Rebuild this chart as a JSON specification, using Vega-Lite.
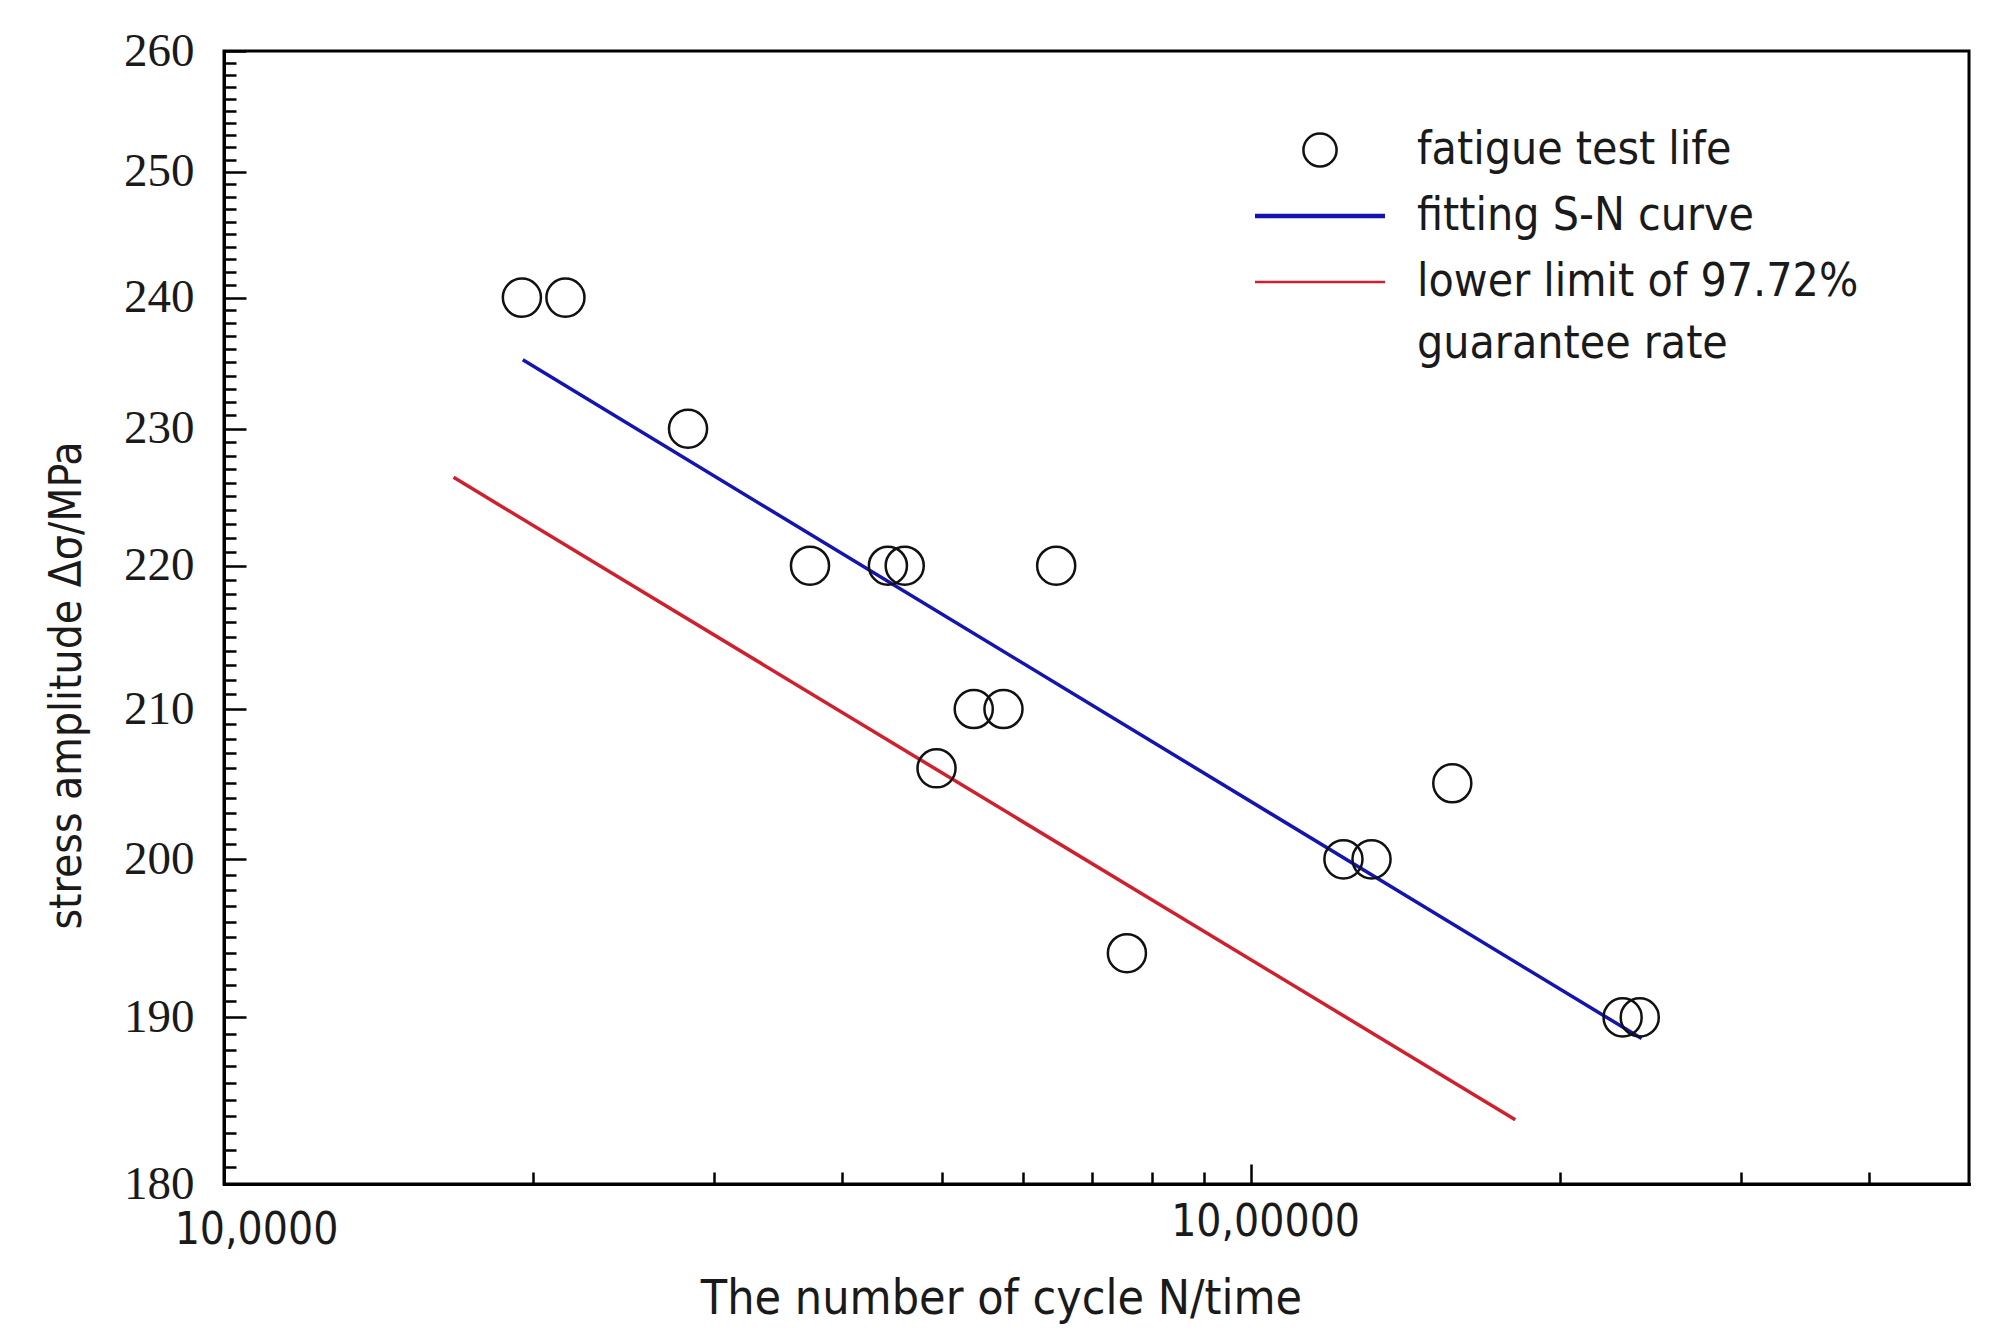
{
  "$schema": "https://vega.github.io/schema/vega-lite/v6.json",
  "width": 1745,
  "height": 1133,
  "autosize": {"type": "none"},
  "padding": {"left": 224, "top": 51, "right": 27, "bottom": 156},
  "background": "white",
  "datasets": {
    "pts": [
      {"N": 195000, "S": 240, "series": "fatigue test life"},
      {"N": 215000, "S": 240, "series": "fatigue test life"},
      {"N": 283000, "S": 230, "series": "fatigue test life"},
      {"N": 372000, "S": 220, "series": "fatigue test life"},
      {"N": 443000, "S": 220, "series": "fatigue test life"},
      {"N": 460000, "S": 220, "series": "fatigue test life"},
      {"N": 646000, "S": 220, "series": "fatigue test life"},
      {"N": 537000, "S": 210, "series": "fatigue test life"},
      {"N": 574000, "S": 210, "series": "fatigue test life"},
      {"N": 494000, "S": 206, "series": "fatigue test life"},
      {"N": 757000, "S": 194, "series": "fatigue test life"},
      {"N": 1230000, "S": 200, "series": "fatigue test life"},
      {"N": 1310000, "S": 200, "series": "fatigue test life"},
      {"N": 1570000, "S": 205, "series": "fatigue test life"},
      {"N": 2300000, "S": 190, "series": "fatigue test life"},
      {"N": 2390000, "S": 190, "series": "fatigue test life"}
    ],
    "fits": [
      {"N": 195400, "S": 235.2, "series": "fitting S-N curve"},
      {"N": 2400000, "S": 188.7, "series": "fitting S-N curve"},
      {"N": 167300, "S": 226.4, "series": "lower limit of 97.72% guarantee rate"},
      {"N": 1808000, "S": 183.8, "series": "lower limit of 97.72% guarantee rate"}
    ]
  },
  "encoding": {
    "x": {
      "field": "N",
      "type": "quantitative",
      "scale": {"type": "log", "domain": [100000, 5000000], "nice": false},
      "axis": {
        "values": [100000, 200000, 300000, 400000, 500000, 600000, 700000, 800000, 900000, 1000000, 2000000, 3000000, 4000000],
        "labelExpr": "datum.value === 100000 ? '10,0000' : (datum.value === 1000000 ? '10,00000' : '')",
        "labelOverlap": false,
        "labelFlush": false,
        "labelBound": false,
        "labelLimit": 600,
        "labelAlign": "center",
        "labelBaseline": "top",
        "labelOffset": {"condition": {"test": "datum.value === 100000", "value": 32}, "value": 14},
        "labelPadding": 36,
        "labelFont": "DejaVu Sans Condensed, sans-serif",
        "labelFontSize": 44,
        "labelColor": "#1a1a1a",
        "tickSize": {"condition": {"test": "datum.value === 1000000", "value": -20}, "value": -12},
        "tickWidth": 2.5,
        "tickColor": "black",
        "domainColor": "black",
        "domainWidth": 3,
        "grid": false,
        "title": "The number of cycle N/time",
        "titleFont": "DejaVu Sans Condensed, sans-serif",
        "titleFontSize": 48,
        "titleFontWeight": "normal",
        "titleColor": "#1a1a1a",
        "titleX": 777,
        "titleY": 115,
        "titleAlign": "center",
        "titleBaseline": "middle",
        "titleAnchor": null
      }
    },
    "y": {
      "field": "S",
      "type": "quantitative",
      "scale": {"type": "log", "domain": [180, 260], "nice": false},
      "axis": {
        "values": [180,181,182,183,184,185,186,187,188,189,190,191,192,193,194,195,196,197,198,199,200,201,202,203,204,205,206,207,208,209,210,211,212,213,214,215,216,217,218,219,220,221,222,223,224,225,226,227,228,229,230,231,232,233,234,235,236,237,238,239,240,241,242,243,244,245,246,247,248,249,250,251,252,253,254,255,256,257,258,259,260],
        "format": "d",
        "labelExpr": "datum.value % 10 === 0 ? format(datum.value, 'd') : ''",
        "labelOverlap": false,
        "labelFlush": false,
        "labelBound": false,
        "labelAlign": "right",
        "labelBaseline": "middle",
        "labelPadding": 52,
        "labelFont": "Liberation Serif",
        "labelFontSize": 47,
        "labelColor": "#1a1a1a",
        "tickSize": {"condition": {"test": "datum.value % 10 === 0", "value": -22}, "value": -12},
        "tickWidth": 2.5,
        "tickColor": "black",
        "domainColor": "black",
        "domainWidth": 3,
        "grid": false,
        "title": "stress amplitude Δσ/MPa",
        "titleFont": "DejaVu Sans Condensed, sans-serif",
        "titleFontSize": 44,
        "titleFontWeight": "normal",
        "titleColor": "#1a1a1a",
        "titleAngle": 270,
        "titleX": -157,
        "titleY": 634,
        "titleAlign": "center",
        "titleBaseline": "middle",
        "titleAnchor": null
      }
    },
    "color": {
      "field": "series",
      "type": "nominal",
      "scale": {
        "domain": ["fatigue test life", "fitting S-N curve", "lower limit of 97.72% guarantee rate"],
        "range": ["#111111", "#1414b0", "#d0202e"]
      },
      "legend": {
        "orient": "none",
        "legendX": 1073,
        "legendY": 76,
        "title": null,
        "padding": 0,
        "labelFont": "DejaVu Sans Condensed, sans-serif",
        "labelFontSize": 46,
        "labelColor": "#1a1a1a",
        "labelLimit": 800,
        "labelOffset": 74,
        "rowPadding": 20,
        "labelBaseline": "middle",
        "labelExpr": "datum.label === 'lower limit of 97.72% guarantee rate' ? ['lower limit of 97.72%', 'guarantee rate'] : datum.label",
        "symbolType": "stroke",
        "symbolSize": 16900,
        "symbolStrokeWidth": 3,
        "encode": {
          "labels": {
            "update": {
              "lineHeight": {"value": 62}
            }
          },
          "symbols": {
            "update": {
              "shape": {"signal": "datum.value === 'fatigue test life' ? 'circle' : 'stroke'"},
              "size": {"signal": "datum.value === 'fatigue test life' ? 1100 : 16900"},
              "strokeWidth": {"signal": "datum.value === 'fatigue test life' ? 2.5 : (datum.value === 'fitting S-N curve' ? 4.5 : 2.5)"},
              "fill": {"value": "transparent"}
            }
          }
        }
      }
    }
  },
  "layer": [
    {
      "data": {"name": "fits"},
      "mark": {"type": "line", "strokeWidth": 3.5, "clip": true}
    },
    {
      "data": {"name": "pts"},
      "mark": {"type": "point", "filled": false, "size": 1450, "strokeWidth": 2.5, "opacity": 1}
    }
  ],
  "config": {
    "view": {"stroke": "black", "strokeWidth": 3},
    "axis": {"domainCap": "square"}
  }
}
